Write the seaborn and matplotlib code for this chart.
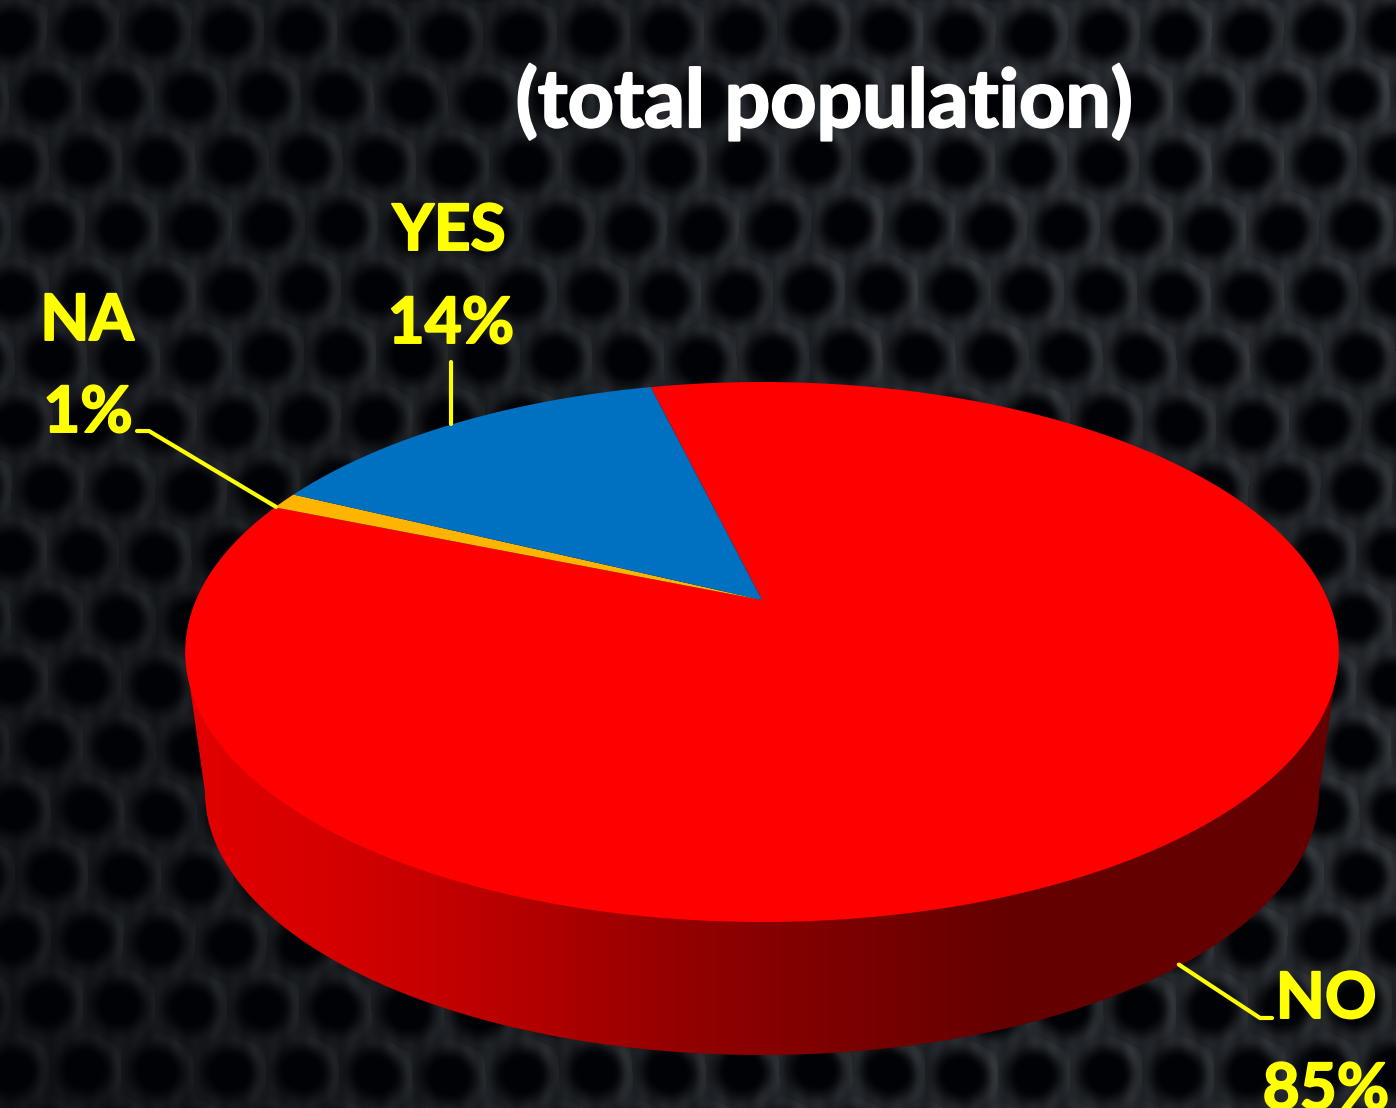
import numpy as np
import matplotlib
matplotlib.use("Agg")
import matplotlib.pyplot as plt
import matplotlib.patheffects as pe
from matplotlib.colors import LinearSegmentedColormap
from matplotlib.patches import Polygon
import seaborn as sns

# Survey shares
categories = ["NO", "NA", "YES"]
shares = [85, 1, 14]
slice_colors = ["#FF0000", "#FFB400", "#0070C0"]
title_text = "(total population)"

sns.set_theme(style="dark")
plt.rcParams["font.family"] = ["Lato", "DejaVu Sans"]

W, H = 1396, 1108
fig, ax = plt.subplots(figsize=(W / 100, H / 100), dpi=100)
fig.subplots_adjust(0, 0, 1, 1)
ax.set_xlim(0, W)
ax.set_ylim(H, 0)
ax.set_axis_off()
sns.despine(ax=ax, left=True, bottom=True)


def perforated_backdrop():
    """Staggered dark holes in soft brushed metal, lit from the right."""
    yy, xx = np.mgrid[0:H, 0:W] + 0.5
    # slow warp so the lattice is not mechanically regular
    wx = xx + 2.5 * np.sin(yy / 83.0 + xx / 211.0) + 1.5 * np.sin(yy / 37.0)
    wy = yy + 2.5 * np.sin(xx / 97.0 - yy / 173.0) + 1.5 * np.sin(xx / 41.0)
    pitch_x, pitch_y = 72.7, 65.0
    row = np.round((wy - 33) / pitch_y)
    best = None
    for dr in (-1, 0, 1):
        r = row + dr
        c_y = 33 + r * pitch_y
        s = np.where(r.astype(int) % 2 == 0, 13.0, 48.0)
        c_x = s + np.round((wx - s) / pitch_x) * pitch_x
        dx, dy = wx - c_x, wy - c_y
        d = np.hypot(dx, dy * 1.05)
        if best is None:
            best = (d, dx, dy)
        else:
            mask = d < best[0]
            best = (np.where(mask, d, best[0]),
                    np.where(mask, dx, best[1]),
                    np.where(mask, dy, best[2]))
    d, dx, dy = best
    hole = np.clip((d - 16) / 22, 0, 1)
    hole = hole * hole * (3 - 2 * hole)
    facing = np.clip((dx * 0.95 - dy * 0.3) / (d + 1e-6), 0, 1)
    rim = np.exp(-((d - 33) / 8.0) ** 2) * facing
    level = 0.56 * hole + 0.24 * rim
    # fine vertical streaks and broad patches of light
    streak = (1 + 0.09 * np.sin(xx / 3.1 + 1.3 * np.sin(yy / 140.0))
              + 0.07 * np.sin(xx / 7.3 + yy / 300.0))
    patch = 1 + 0.12 * np.sin(xx / 260.0 + yy / 190.0) * np.sin(yy / 230.0 - xx / 410.0)
    dim_corner = 0.22 * np.clip((yy - 600) / 450, 0, 1) * np.clip(1 - xx / 500, 0, 1)
    light = (0.68 + 0.45 * (xx / W) - dim_corner) * streak * patch
    level = level * light
    base = np.array([1.0, 2.0, 5.0])
    ridge = np.array([58.0, 63.0, 68.0])
    img = base + level[..., None] * (ridge - base)
    return np.clip(img, 0, 255).astype(np.uint8)


ax.imshow(perforated_backdrop(), extent=(0, W, H, 0), aspect="auto", zorder=0,
          interpolation="bilinear")

# Perspective disc: unit circle to screen through a projective map
CX, APEX_Y, RADIUS = 762.0, 600.0, 566.0
PERSP, SQUASH = -0.1926, 144.4
BASE_SCALE, BASE_DROP = 0.968, 130.0
START_DEG = -13.5


def project(theta_deg, rho=1.0):
    t = np.radians(theta_deg)
    u, v = rho * np.sin(t), -rho * np.cos(t)
    den = 1 + PERSP * v
    return CX + RADIUS * u / den, (SQUASH * v + APEX_Y) / den


# Side wall: silhouette of the top rim and lower rim, with a horizontal shade
BX, BY, BA, BB = CX, 792.0, 557.0, 263.0
arc = np.linspace(np.pi, 0, 240)
wall_x = np.concatenate([[185.0], BX + BA * np.cos(arc), [1339.0]])
wall_y = np.concatenate([[652.0], BY + BB * np.sin(arc), [652.0]])
shade = LinearSegmentedColormap.from_list(
    "wall",
    [(0.0, "#E20000"), (0.12, "#D60000"), (0.26, "#BC0000"), (0.42, "#960000"),
     (0.58, "#7A0000"), (0.72, "#640000"), (1.0, "#640000")],
)
grad = ax.imshow(np.linspace(0, 1, 512)[None, :], extent=(185, 1339, 1060, 640),
                 aspect="auto", cmap=shade, vmin=0, vmax=1, zorder=1)
outline = Polygon(np.column_stack([wall_x, wall_y]), closed=True,
                  transform=ax.transData, facecolor="none", edgecolor="none")
ax.add_patch(outline)
grad.set_clip_path(outline)
ax.set_xlim(0, W)
ax.set_ylim(H, 0)

# Top face slices
fractions = np.array(shares, dtype=float) / np.sum(shares)
edges = START_DEG + 360 * np.concatenate([[0], np.cumsum(fractions)])
mids = {}
for name, a0, a1, color in zip(categories, edges[:-1], edges[1:], slice_colors):
    th = np.linspace(a0, a1, max(8, int(a1 - a0) * 2))
    x, y = project(th)
    ax.fill(np.r_[CX, x], np.r_[APEX_Y, y], color=color, lw=0, zorder=2)
    mids[name] = (a0 + a1) / 2

# Leader lines start on the rim at each slice's middle
YELLOW = "#FFFF00"
na_x, na_y = project(mids["NA"])
yes_x, yes_y = project(mids["YES"])
no_x, no_y = project(mids["NO"])
no_x = CX + (no_x - CX) * BASE_SCALE
no_y = no_y + BASE_DROP
leaders = {
    "NA": ([137, 149, na_x - 8], [431, 431, na_y + 6]),
    "YES": ([yes_x - 3, yes_x - 3], [362, yes_y]),
    "NO": ([no_x, 1260, 1272], [no_y + 3, 1018, 1018]),
}
for lx, ly in leaders.values():
    sns.lineplot(x=lx, y=ly, sort=False, estimator=None, color=YELLOW, lw=3,
                 ax=ax, zorder=3, legend=False)
ax.set_xlim(0, W)
ax.set_ylim(H, 0)

# Labels, thickened slightly with a same-colour stroke
heavy_y = [pe.withStroke(linewidth=1.4, foreground=YELLOW)]
heavy_w = [pe.withStroke(linewidth=1.6, foreground="white")]
label_font = dict(color=YELLOW, fontweight="bold", fontsize=46, va="baseline",
                  zorder=4, path_effects=heavy_y)
ax.text(87, 340, "NA", ha="center", **label_font)
ax.text(88, 432, f"{shares[1]}%", ha="center", **label_font)
ax.text(449, 250, "YES", ha="center", **label_font)
ax.text(451, 343, f"{shares[2]}%", ha="center", **label_font)
ax.text(1326, 1018, "NO", ha="center", **label_font)
ax.text(1326, 1109, f"{shares[0]}%", ha="center", **label_font)
ax.text(824, 127, title_text, ha="center", va="baseline", color="white",
        fontweight="bold", fontsize=58, zorder=4, path_effects=heavy_w)

fig.savefig("out.png", dpi=100)
